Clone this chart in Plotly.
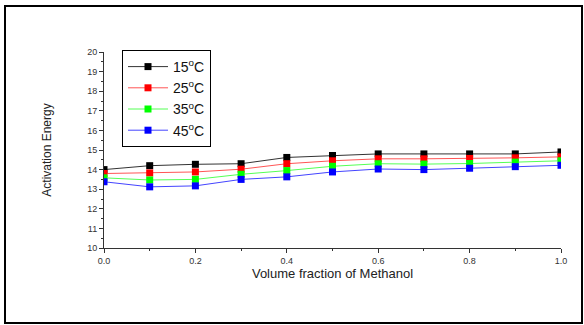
import plotly.graph_objects as go

x_vals = [0.0, 0.1, 0.2, 0.3, 0.4, 0.5, 0.6, 0.7, 0.8, 0.9, 1.0]
e_15 = [14.0, 14.2, 14.27, 14.3, 14.62, 14.72, 14.8, 14.8, 14.8, 14.8, 14.9]
e_25 = [13.8, 13.83, 13.88, 14.02, 14.3, 14.45, 14.55, 14.55, 14.57, 14.6, 14.65]
e_35 = [13.58, 13.47, 13.5, 13.76, 13.95, 14.17, 14.3, 14.28, 14.31, 14.38, 14.45]
e_45 = [13.38, 13.12, 13.17, 13.5, 13.63, 13.88, 14.03, 14.0, 14.07, 14.15, 14.22]
names = ["15<sup>o</sup>C", "25<sup>o</sup>C", "35<sup>o</sup>C", "45<sup>o</sup>C"]
line_colors = ["#333333", "#ff5555", "#55ff55", "#4444ff"]
marker_colors = ["#000000", "#ff0000", "#00ff00", "#0000ff"]

W, H = 584, 325
L, R, T, B = 104, 561, 52, 248

fig = go.Figure()
for ys, nm, lc, mc in zip([e_15, e_25, e_35, e_45], names, line_colors, marker_colors):
    fig.add_trace(go.Scatter(
        x=x_vals, y=ys, name=nm, mode="lines+markers",
        line=dict(color=lc, width=1),
        marker=dict(symbol="square", size=7, color=mc),
    ))

def px2x(p):
    return (p - L) / (R - L)

def py2y(p):
    return (B - p) / (B - T)

fig.add_shape(type="rect", xref="paper", yref="paper",
              x0=px2x(5), x1=px2x(582), y0=py2y(323), y1=py2y(6),
              line=dict(color="black", width=2))

fig.update_layout(
    width=W, height=H,
    margin=dict(l=L, r=W - R, t=T, b=H - B),
    paper_bgcolor="white", plot_bgcolor="white",
    font=dict(family="Liberation Sans, Arial", color="#222222"),
    showlegend=True,
    legend=dict(
        x=px2x(122), y=py2y(50), xanchor="left", yanchor="top",
        bordercolor="black", borderwidth=1, bgcolor="white",
        font=dict(size=14, color="#111111"),
        tracegroupgap=0, itemwidth=40,
    ),
    xaxis=dict(
        range=[0, 1.0], tickvals=[0, 0.2, 0.4, 0.6, 0.8, 1.0],
        ticktext=["0.0", "0.2", "0.4", "0.6", "0.8", "1.0"],
        showgrid=False, zeroline=False, showline=True, linecolor="#333333", linewidth=1,
        ticks="outside", ticklen=4, tickcolor="#333333",
        minor=dict(dtick=0.1, ticks="outside", ticklen=2, tickcolor="#333333"),
        tickfont=dict(size=9, color="#333333"),
        title=dict(text="Volume fraction of Methanol", font=dict(size=13, color="#222222"), standoff=4),
    ),
    yaxis=dict(
        range=[10, 20], dtick=1,
        showgrid=False, zeroline=False, showline=True, linecolor="#333333", linewidth=1,
        ticks="outside", ticklen=4, tickcolor="#333333",
        minor=dict(dtick=0.5, ticks="outside", ticklen=2, tickcolor="#333333"),
        tickfont=dict(size=9, color="#333333"),
        title=dict(text="Activation Energy", font=dict(size=12, color="#222222"), standoff=32),
    ),
)

fig.write_html("out.html")
